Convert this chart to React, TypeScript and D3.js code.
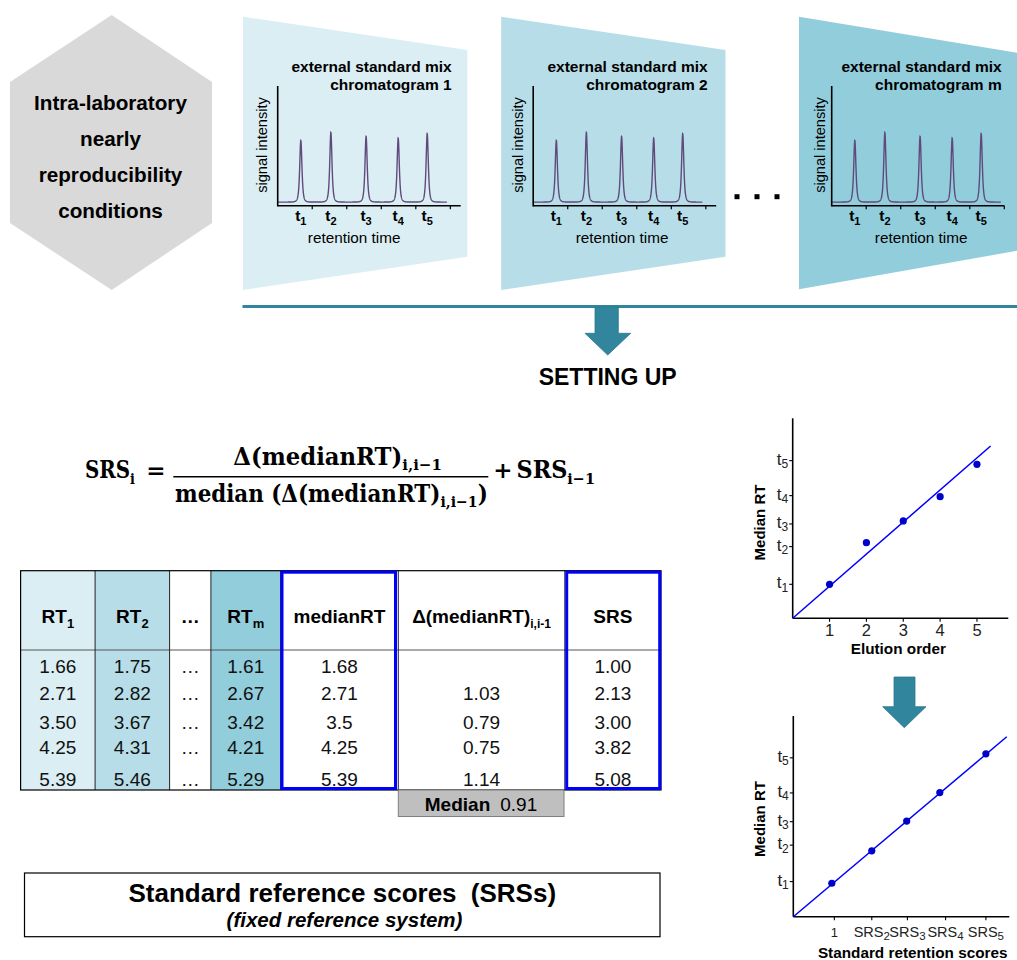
import React, { useLayoutEffect, useRef, useState } from "react";
import * as d3 from "d3";

// ---------------- DATA ----------------
const hexLines = ["Intra-laboratory", "nearly", "reproducibility", "conditions"];
const chromTitleLine1 = "external standard mix";
const chromTitles = ["chromatogram 1", "chromatogram 2", "chromatogram m"];
const peakSubs = ["1", "2", "3", "4", "5"];
const peakTimes = [0.67, 1.54, 2.56, 3.49, 4.33];
const peakHeights = [0.515, 0.582, 0.549, 0.535, 0.572];
const signalBaseline = 0.03;
const timeTicks = [1, 2, 3, 4, 5];

const tableHeaders = [
  { base: "RT", sub: "1" },
  { base: "RT", sub: "2" },
  { base: "…", sub: "" },
  { base: "RT", sub: "m" },
  { base: "medianRT", sub: "" },
  { base: "Δ(medianRT)", sub: "i,i-1" },
  { base: "SRS", sub: "" },
];
const rt1 = ["1.66", "2.71", "3.50", "4.25", "5.39"];
const rt2 = ["1.75", "2.82", "3.67", "4.31", "5.46"];
const rtDots = ["…", "…", "…", "…", "…"];
const rtm = ["1.61", "2.67", "3.42", "4.21", "5.29"];
const medianRT = ["1.68", "2.71", "3.5", "4.25", "5.39"];
const deltaMedianRT = ["", "1.03", "0.79", "0.75", "1.14"];
const srsValues = ["1.00", "2.13", "3.00", "3.82", "5.08"];
const medianOfDelta = "0.91";

const elutionOrder = [1, 2, 3, 4, 5];
const plot1MedianRT = [1.02, 2.27, 2.92, 3.65, 4.62];
const plot1TTicks = [1.02, 2.15, 2.83, 3.68, 4.73];
const plot1Fit = [[0, 0], [5.37, 5.17]];

const plot2SRS = [1.07, 2.18, 3.15, 4.07, 5.35];
const plot2MedianRT = [1.0, 1.97, 2.86, 3.71, 4.87];
const plot2XTicks = [1.14, 2.18, 3.17, 4.23, 5.35];
const plot2XLabels = [
  { base: "1", sub: "" },
  { base: "SRS", sub: "2" },
  { base: "SRS", sub: "3" },
  { base: "SRS", sub: "4" },
  { base: "SRS", sub: "5" },
];
const plot2TTicks = [1.05, 2.14, 2.84, 3.7, 4.75];
const plot2Fit = [[0, 0], [5.93, 5.38]];

// ---------------- STYLE ----------------
const SANS = "'Liberation Sans', Arial, Helvetica, sans-serif";
const SERIF = "'DejaVu Serif', 'Liberation Serif', serif";
const TEAL = "#31859c";
const PURPLE = "#604a7b";
const BLUE = "#0000ff";

const panels = [
  { trap: [[243, 16.7], [467.3, 50], [467.3, 256.7], [243, 290]], fill: "#dbeef3", axisX: 277.7, axisLen: 183, tmax: 5.3, titleRight: 451.7, sigX: 266.7, rtCenter: 354.2 },
  { trap: [[501.2, 16.7], [725.5, 50], [725.5, 256.7], [501.2, 290]], fill: "#b7dee8", axisX: 533.2, axisLen: 183, tmax: 5.3, titleRight: 707.7, sigX: 523, rtCenter: 622.1 },
  { trap: [[799, 16.7], [1030, 55], [1030, 248.5], [799, 289.3]], fill: "#92cddc", axisX: 831.7, axisLen: 172.6, tmax: 5.0, titleRight: 1001.7, sigX: 825, rtCenter: 921.2 },
];
const chromEnd = 4.9;

function signalAt(t: number) {
  let s = signalBaseline;
  peakTimes.forEach((c, i) => {
    const u = (t - c) / 0.058;
    s += peakHeights[i] / Math.pow(1 + u * u, 2);
  });
  return s;
}

function Chromatogram({ p, idx }: { p: any; idx: number }) {
  const xS = d3.scaleLinear().domain([0, p.tmax]).range([p.axisX, p.axisX + p.axisLen]);
  const yS = d3.scaleLinear().domain([0, 1]).range([205.7, 86]);
  const ts = d3.range(0, chromEnd + 1e-9, 0.003);
  const path = d3.line<number>().x((t) => xS(t)).y((t) => yS(signalAt(t)))(ts) || "";
  return (
    <g>
      <polygon points={p.trap.map((q: number[]) => q.join(",")).join(" ")} fill={p.fill} />
      <text x={p.titleRight} y={71.7} textAnchor="end" fontWeight="bold" fontSize={15.5}>{chromTitleLine1}</text>
      <text x={p.titleRight} y={90} textAnchor="end" fontWeight="bold" fontSize={15.5}>{chromTitles[idx]}</text>
      <path d={path} fill="none" stroke={PURPLE} strokeWidth={1.4} />
      <line x1={xS(0)} x2={xS(0)} y1={yS(1)} y2={yS(0) + 0.75} stroke="#000" strokeWidth={1.6} />
      <line x1={xS(0)} x2={xS(p.tmax)} y1={yS(0)} y2={yS(0)} stroke="#000" strokeWidth={1.6} />
      {timeTicks.map((t) => (
        <line key={t} x1={xS(t)} x2={xS(t)} y1={yS(0)} y2={yS(0) + 3.5} stroke="#000" strokeWidth={1.2} />
      ))}
      {peakTimes.map((c, i) => (
        <text key={i} x={xS(c)} y={221} textAnchor="middle" fontWeight="bold" fontSize={15.5}>
          t<tspan dy={4} fontSize={11}>{peakSubs[i]}</tspan>
        </text>
      ))}
      <text x={p.rtCenter} y={243} textAnchor="middle" fontSize={15.3}>retention time</text>
      <text transform={`translate(${p.sigX},145) rotate(-90)`} textAnchor="middle" fontSize={14.6}>signal intensity</text>
    </g>
  );
}

function ScatterPlot(props: any) {
  const { xS, yS, xTicks, xLabels, tTicks, px, py, fit, xTitle, xTitleX, xTitleY, yTitleY, labelY, labelSize, plainSize } = props;
  const x0 = xS.range()[0];
  const x1 = xS.range()[1];
  const y0 = yS.range()[0];
  const y1 = yS.range()[1];
  return (
    <g>
      <line x1={x0} x2={x0} y1={y1} y2={y0} stroke="#000" strokeWidth={1.6} />
      <line x1={x0} x2={x1} y1={y0} y2={y0} stroke="#000" strokeWidth={1.6} />
      {xTicks.map((t: number, i: number) => (
        <g key={i}>
          <line x1={xS(t)} x2={xS(t)} y1={y0} y2={y0 + 3.5} stroke="#000" strokeWidth={1.1} />
          <text x={xS(t)} y={labelY} textAnchor="middle" fontSize={xLabels[i].sub ? labelSize : plainSize} fill="#222">
            {xLabels[i].base}
            {xLabels[i].sub ? <tspan dy={3} fontSize={labelSize - 3}>{xLabels[i].sub}</tspan> : null}
          </text>
        </g>
      ))}
      {tTicks.map((t: number, i: number) => (
        <g key={i}>
          <line x1={x0 - 3.5} x2={x0} y1={yS(t)} y2={yS(t)} stroke="#000" strokeWidth={1.1} />
          <text x={x0 - 4.5} y={yS(t) + 4} textAnchor="end" fontSize={17} fill="#222">
            t<tspan dy={3.5} fontSize={12}>{peakSubs[i]}</tspan>
          </text>
        </g>
      ))}
      <line x1={xS(fit[0][0])} y1={yS(fit[0][1])} x2={xS(fit[1][0])} y2={yS(fit[1][1])} stroke={BLUE} strokeWidth={1.5} />
      {px.map((v: number, i: number) => (
        <circle key={i} cx={xS(v)} cy={yS(py[i])} r={3.6} fill="#0000cc" />
      ))}
      <text x={xTitleX} y={xTitleY} textAnchor="middle" fontWeight="bold" fontSize={15.3}>{xTitle}</text>
      <text transform={`translate(765,${yTitleY}) rotate(-90)`} textAnchor="middle" fontWeight="bold" fontSize={15}>Median RT</text>
    </g>
  );
}

// table layout
const colX = [20.6, 95.1, 169.6, 210.9, 280.6, 398.3, 564.8, 661];
const colFill = ["#dbeef3", "#b7dee8", "#ffffff", "#92cddc", "#ffffff", "#ffffff", "#ffffff"];
const rowBaseline = [673, 700, 728.5, 753.5, 785.5];
const tableTop = 570.7;
const headerBottom = 650;
const tableBottom = 790;

function Table() {
  const cols = [rt1, rt2, rtDots, rtm, medianRT, deltaMedianRT, srsValues];
  return (
    <g>
      {colFill.map((f, i) => (
        <rect key={i} x={colX[i]} y={tableTop} width={colX[i + 1] - colX[i]} height={tableBottom - tableTop} fill={f} />
      ))}
      <line x1={colX[0]} x2={colX[7]} y1={headerBottom} y2={headerBottom} stroke="#555" strokeWidth={1} />
      {colX.slice(1, 7).map((x, i) => (
        <line key={i} x1={x} x2={x} y1={tableTop} y2={tableBottom} stroke="#222" strokeWidth={1} />
      ))}
      <rect x={colX[0]} y={tableTop} width={colX[7] - colX[0]} height={tableBottom - tableTop} fill="none" stroke="#000" strokeWidth={1.2} />
      {tableHeaders.map((h, i) => (
        <text key={i} x={(colX[i] + colX[i + 1]) / 2} y={623} textAnchor="middle" fontWeight="bold" fontSize={19}>
          {h.base}
          {h.sub ? <tspan dy={5} fontSize={h.sub.length > 1 ? 12 : 13}>{h.sub}</tspan> : null}
        </text>
      ))}
      {cols.map((c, i) =>
        c.map((v, r) => (
          <text key={`${i}-${r}`} x={(colX[i] + colX[i + 1]) / 2} y={rowBaseline[r]} textAnchor="middle" fontSize={19} fill="#111">
            {v}
          </text>
        ))
      )}
      <rect x={282} y={572.2} width={113.5} height={216.3} fill="none" stroke={BLUE} strokeWidth={3} />
      <rect x={566.7} y={572.2} width={93} height={216.3} fill="none" stroke={BLUE} strokeWidth={3} />
      <rect x={398.3} y={790} width={165.7} height={26.5} fill="#bfbfbf" stroke="#7f7f7f" strokeWidth={1} />
      <text x={481} y={810.5} textAnchor="middle" fontSize={19}>
        <tspan fontWeight="bold">Median</tspan>
        <tspan dx={10}>{medianOfDelta}</tspan>
      </text>
    </g>
  );
}

// Text laid out naturally, then scaled horizontally to fit a target width.
function FitText({ x, y, width, fontSize, children }: any) {
  const ref = useRef<SVGTextElement>(null);
  const [s, setS] = useState(1);
  useLayoutEffect(() => {
    if (ref.current) {
      const w = ref.current.getComputedTextLength();
      if (w > 0) setS(width / w);
    }
  }, [width]);
  return (
    <g transform={`translate(${x},${y}) scale(${s},1)`}>
      <text ref={ref} x={0} y={0} fontSize={fontSize}>{children}</text>
    </g>
  );
}

function Formula() {
  return (
    <g fontFamily={SERIF} fontWeight="bold" fill="#000">
      <FitText x={85} y={478.3} width={50} fontSize={24}>
        SRS<tspan dy={5.5} fontSize={15.5}>i</tspan>
      </FitText>
      <text x={156} y={478} fontSize={23} textAnchor="middle">=</text>
      <FitText x={233.3} y={465} width={208.7} fontSize={23.5}>
        Δ(medianRT)<tspan dy={5} fontSize={15.5}>i,i−1</tspan>
      </FitText>
      <line x1={173.3} x2={488.3} y1={476.7} y2={476.7} stroke="#000" strokeWidth={1.6} />
      <FitText x={175} y={501.7} width={313} fontSize={23.5}>
        median (Δ(medianRT)<tspan dy={5} fontSize={15.5}>i,i−1</tspan>
        <tspan dy={-5}>)</tspan>
      </FitText>
      <text x={503} y={478} fontSize={23} textAnchor="middle">+</text>
      <FitText x={516.5} y={478.3} width={78.5} fontSize={24}>
        SRS<tspan dy={5.5} fontSize={15.5}>i−1</tspan>
      </FitText>
    </g>
  );
}

export default function App() {
  const p1x = d3.scaleLinear().domain([0, 5.85]).range([792.7, 1008.3]);
  const p1y = d3.scaleLinear().domain([0, 6]).range([618.3, 418.3]);
  const p2x = d3.scaleLinear().domain([0, 6]).range([793.3, 1009.3]);
  const p2y = d3.scaleLinear().domain([0, 6]).range([916.7, 716]);
  const hexPts = [[111.7, 15], [212, 82], [212, 223], [111.7, 290], [10, 223], [10, 82]];

  return (
    <svg
      width={1017}
      height={960}
      viewBox="0 0 1017 960"
      style={{ position: "absolute", left: 0, top: 0, background: "#fff", display: "block" }}
      fontFamily={SANS}
    >
      <rect x={0} y={0} width={1017} height={960} fill="#fff" />
      {/* hexagon */}
      <polygon points={hexPts.map((q) => q.join(",")).join(" ")} fill="#d9d9d9" />
      {hexLines.map((l, i) => (
        <text key={i} x={110.5} y={[110, 146, 182, 217.5][i]} textAnchor="middle" fontWeight="bold" fontSize={20.7}>{l}</text>
      ))}
      {/* chromatograms */}
      {panels.map((p, i) => (
        <Chromatogram key={i} p={p} idx={i} />
      ))}
      {[737, 757, 777].map((x) => (
        <rect key={x} x={x - 2.5} y={194.2} width={5} height={5} fill="#000" />
      ))}
      {/* separator + arrow */}
      <line x1={242.5} x2={1017} y1={306.5} y2={306.5} stroke={TEAL} strokeWidth={2.8} />
      <polygon points="595,307 618.3,307 618.3,333.3 630.7,333.3 607.7,355 585,333.3 595,333.3" fill={TEAL} stroke="#2c7a8f" strokeWidth={0.8} />
      <text x={607.7} y={385} textAnchor="middle" fontWeight="bold" fontSize={23}>SETTING UP</text>

      <Formula />
      <Table />

      {/* bottom box */}
      <rect x={24.5} y={873} width={635.5} height={63.7} fill="#fff" stroke="#000" strokeWidth={1.2} />
      <text x={342.3} y={901.5} textAnchor="middle" fontWeight="bold" fontSize={26}>
        {"Standard reference scores "}
        <tspan dx={7}>(SRSs)</tspan>
      </text>
      <text x={344.5} y={926.5} textAnchor="middle" fontWeight="bold" fontStyle="italic" fontSize={20.5}>(fixed reference system)</text>

      {/* scatter 1 */}
      <ScatterPlot
        xS={p1x}
        yS={p1y}
        xTicks={elutionOrder}
        xLabels={elutionOrder.map((d) => ({ base: String(d), sub: "" }))}
        tTicks={plot1TTicks}
        px={elutionOrder}
        py={plot1MedianRT}
        fit={plot1Fit}
        xTitle="Elution order"
        xTitleX={898.3}
        xTitleY={653.5}
        yTitleY={522.5}
        labelY={636}
        labelSize={16.5}
        plainSize={16.5}
      />
      {/* arrow between plots */}
      <polygon points="894,677 915,677 915,706.7 926,706.7 904.3,727.7 882.7,706.7 894,706.7" fill={TEAL} stroke="#2c7a8f" strokeWidth={0.8} />
      {/* scatter 2 */}
      <ScatterPlot
        xS={p2x}
        yS={p2y}
        xTicks={plot2XTicks}
        xLabels={plot2XLabels}
        tTicks={plot2TTicks}
        px={plot2SRS}
        py={plot2MedianRT}
        fit={plot2Fit}
        xTitle="Standard retention scores"
        xTitleX={912.7}
        xTitleY={958}
        yTitleY={819}
        labelY={936.5}
        labelSize={14.5}
        plainSize={13}
      />
    </svg>
  );
}
